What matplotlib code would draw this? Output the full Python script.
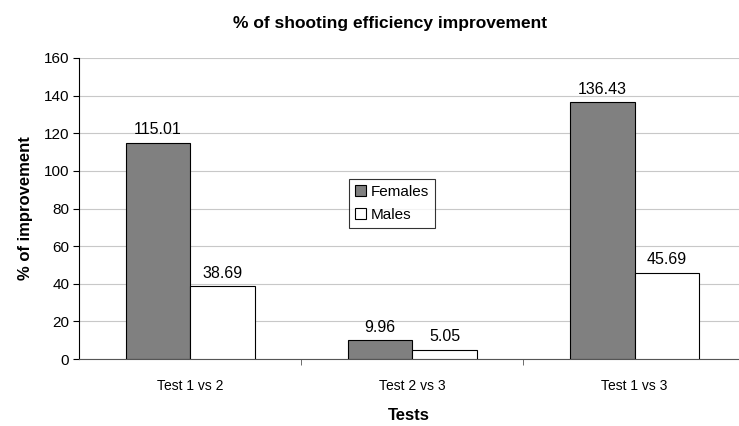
import numpy as np
import matplotlib.pyplot as plt
from matplotlib.patches import Patch

categories = ['Test 1 vs 2', 'Test 2 vs 3', 'Test 1 vs 3']
females = [115.01, 9.96, 136.43]
males = [38.69, 5.05, 45.69]

plt.rcParams['font.family'] = ['Liberation Sans', 'DejaVu Sans']

fig = plt.figure(figsize=(7.39, 4.26), dpi=100)
ax = fig.add_axes([0.107, 0.157, 0.893, 0.707])

x = np.arange(len(categories))
w = 0.29
b1 = ax.bar(x - w / 2, females, w, color='#808080', edgecolor='black', linewidth=0.8, label='Females', zorder=3)
b2 = ax.bar(x + w / 2, males, w, color='white', edgecolor='black', linewidth=0.8, label='Males', zorder=3)

for bars, vals in [(b1, females), (b2, males)]:
    for r, v in zip(bars, vals):
        ax.text(r.get_x() + r.get_width() / 2, v + 3, f'{v:.2f}', ha='center', va='bottom', fontsize=11.5)

ax.set_ylim(0, 160)
ax.set_yticks(range(0, 161, 20))
ax.set_xlim(-0.5, 2.47)
ax.set_xticks(x)
ax.set_xticklabels(categories, fontsize=10)
ax.set_xticks([0.5, 1.5], minor=True)
ax.tick_params(axis='x', which='major', length=0, pad=14)
ax.tick_params(axis='x', which='minor', length=4, color='#555555')
ax.tick_params(axis='y', labelsize=11, length=4, pad=3)
ax.yaxis.grid(True, color='#c8c8c8', linewidth=0.8, zorder=0)
ax.set_axisbelow(True)

for s in ['top', 'right']:
    ax.spines[s].set_visible(False)
ax.spines['left'].set_color('black')
ax.spines['bottom'].set_color('#555555')

ax.set_ylabel('% of improvement', fontsize=12, fontweight='bold', labelpad=8)
ax.set_xlabel('Tests', fontsize=12, fontweight='bold', labelpad=11)
fig.suptitle('% of shooting efficiency improvement', fontsize=12.5, fontweight='bold', x=0.528, y=0.962)

handles = [Patch(facecolor='#808080', edgecolor='black', linewidth=0.8),
           Patch(facecolor='white', edgecolor='black', linewidth=0.8)]
leg = ax.legend(handles, ['Females', 'Males'], loc='upper left', bbox_to_anchor=(0.398, 0.625),
                fontsize=11, frameon=True, fancybox=False, edgecolor='black', handlelength=0.7,
                handleheight=0.7, handletextpad=0.3, borderpad=0.4, labelspacing=0.6)
leg.get_frame().set_linewidth(0.8)

fig.savefig('out.png', dpi=100)
